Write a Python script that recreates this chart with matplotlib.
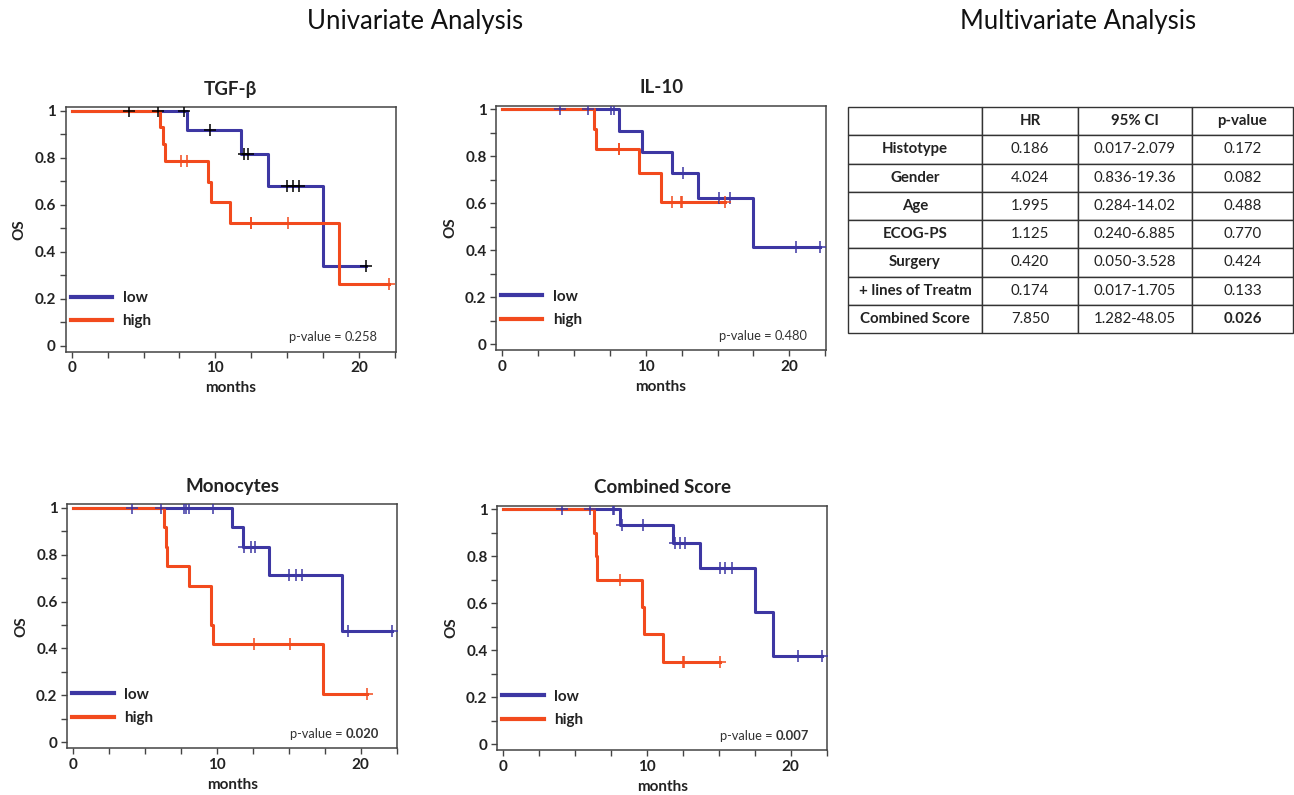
import matplotlib
matplotlib.use("Agg")
import matplotlib.pyplot as plt
import numpy as np

plt.rcParams['font.family'] = ['Lato', 'DejaVu Sans']

# ---- Kaplan-Meier data ----
panel_titles = ['TGF-β', 'IL-10', 'Monocytes', 'Combined Score']
p_values = ['0.258', '0.480', '0.020', '0.007']
p_bold = [False, False, True, True]

# low group: step times / survival / censor times
low_times = [
    [0, 8.0, 11.8, 13.65, 17.5, 20.5],
    [0, 8.1, 9.75, 11.8, 13.65, 17.45, 22.15],
    [0, 11.05, 11.8, 13.65, 18.7, 22.2],
    [0, 8.15, 11.8, 13.7, 17.5, 18.75, 22.15],
]
low_surv = [
    [1, 0.917, 0.815, 0.679, 0.34, 0.34],
    [1, 0.909, 0.818, 0.727, 0.623, 0.415, 0.415],
    [1, 0.917, 0.833, 0.714, 0.476, 0.476],
    [1, 0.933, 0.857, 0.75, 0.563, 0.375, 0.375],
]
low_censor = [
    [4.0, 6.0, 7.8, 9.65, 12.0, 12.25, 15.0, 15.4, 15.8, 20.5],
    [4.0, 6.0, 7.6, 7.75, 12.6, 15.1, 15.85, 20.5, 22.15],
    [4.05, 6.1, 7.7, 7.85, 8.05, 9.75, 11.9, 12.35, 12.65, 15.0, 15.5, 15.95, 19.1, 22.2],
    [4.05, 6.05, 7.6, 7.7, 8.25, 9.7, 11.95, 12.3, 12.65, 15.05, 15.45, 15.9, 20.5, 22.15],
]

high_times = [
    [0, 6.15, 6.35, 6.5, 9.5, 9.7, 11.05, 18.6, 22.1],
    [0, 6.4, 6.55, 9.55, 11.05, 15.5],
    [0, 6.3, 6.45, 6.55, 8.05, 9.6, 9.7, 17.4, 20.45],
    [0, 6.3, 6.45, 6.55, 9.65, 9.8, 11.1, 15.05],
]
high_surv = [
    [1, 0.929, 0.857, 0.786, 0.698, 0.611, 0.524, 0.262, 0.262],
    [1, 0.917, 0.833, 0.729, 0.607, 0.607],
    [1, 0.917, 0.833, 0.75, 0.667, 0.5, 0.417, 0.208, 0.208],
    [1, 0.9, 0.8, 0.7, 0.583, 0.467, 0.35, 0.35],
]
high_censor = [
    [7.6, 8.0, 12.45, 12.5, 15.05, 22.1],
    [8.1, 8.15, 11.85, 12.45, 12.5, 15.5],
    [12.55, 15.05, 20.45],
    [8.1, 12.5, 12.55, 15.05],
]

y_ticks = [0, 0.2, 0.4, 0.6, 0.8, 1]
y_ticklabels = ['0', '0.2', '0.4', '0.6', '0.8', '1']
x_ticks = [0, 10, 20]

# ---- multivariate table ----
col_labels = ['', 'HR', '95% CI', 'p-value']
row_labels = ['Histotype', 'Gender', 'Age', 'ECOG-PS', 'Surgery', '+ lines of Treatm', 'Combined Score']
hr = ['0.186', '4.024', '1.995', '1.125', '0.420', '0.174', '7.850']
ci = ['0.017-2.079', '0.836-19.36', '0.284-14.02', '0.240-6.885', '0.050-3.528', '0.017-1.705', '1.282-48.05']
pv = ['0.172', '0.082', '0.488', '0.770', '0.424', '0.133', '0.026']

BLUE = '#3d37a3'
RED = '#f24a1d'
FRAME = '#444444'
TXT = '#222222'

W, H = 1294, 795


def ax_rect(left, top, right, bottom):
    return [left / W, 1 - bottom / H, (right - left) / W, (bottom - top) / H]


def value_at(times, surv, t):
    idx = np.searchsorted(times, t, side='right') - 1
    return np.asarray(surv)[idx]


def km_panel(ax, i):
    lo, = ax.step(low_times[i], low_surv[i], where='post', color=BLUE, lw=2.2, label='low', zorder=2)
    hi, = ax.step(high_times[i], high_surv[i], where='post', color=RED, lw=2.2, label='high', zorder=3)

    # censor marks
    lc = BLUE if i > 0 else 'black'
    ax.plot(low_censor[i], value_at(low_times[i], low_surv[i], low_censor[i]), '+',
            color=lc, ms=8, mew=1.1, zorder=4)
    ax.plot(high_censor[i], value_at(high_times[i], high_surv[i], high_censor[i]), '+',
            color=RED, ms=8, mew=1.1, zorder=4)

    ax.set_xlim(-0.42, 22.55)
    ax.set_ylim(-0.0255, 1.0145)
    ax.set_xticks(x_ticks)
    ax.set_xticks(np.arange(0, 22.6, 2.5), minor=True)
    ax.set_yticks(y_ticks)
    ax.set_yticklabels(y_ticklabels)
    ax.set_yticks(np.arange(0, 1.01, 0.1), minor=True)
    ax.tick_params(which='both', length=4, width=1, color=FRAME, labelsize=11,
                   labelcolor=TXT, pad=3)
    for lab in ax.get_xticklabels() + ax.get_yticklabels():
        lab.set_fontweight('bold')
    for sp in ax.spines.values():
        sp.set_color(FRAME)
        sp.set_linewidth(1.1)

    ax.set_title(panel_titles[i], fontsize=13.5, fontweight='bold', color=TXT, pad=9)
    ax.set_xlabel('months', fontsize=11, fontweight='bold', color=TXT, labelpad=4)
    ax.set_ylabel('OS', fontsize=11, fontweight='bold', color=TXT)
    ax.yaxis.set_label_coords(-0.118, 0.5)

    leg = ax.legend(handles=[lo, hi], loc='lower left', frameon=False,
                    bbox_to_anchor=(0.015, 0.095), borderaxespad=0, borderpad=0,
                    handlelength=2.7, handletextpad=0.7, labelspacing=0.62,
                    prop={'weight': 'bold', 'size': 11})
    for ln in leg.get_lines():
        ln.set_linewidth(3)
    for t in leg.get_texts():
        t.set_color(TXT)

    val = ax.text(0.945, 0.06, p_values[i], transform=ax.transAxes, ha='right', va='center',
                  fontsize=9.3, color='#333333', fontweight='bold' if p_bold[i] else 'normal')
    ax.annotate('p-value = ', xy=(0, 0.5), xycoords=val, ha='right', va='center',
                fontsize=9.3, color='#333333')


def draw_table(tax):
    tax.axis('off')
    cells = [[row_labels[k], hr[k], ci[k], pv[k]] for k in range(len(row_labels))]
    widths = np.array([134, 96, 114, 101], dtype=float)
    tbl = tax.table(cellText=cells, colLabels=col_labels, cellLoc='center',
                    colWidths=list(widths / widths.sum()), bbox=[0, 0, 1, 1])
    tbl.auto_set_font_size(False)
    for (r, c), cell in tbl.get_celld().items():
        cell.set_edgecolor('#333333')
        cell.set_linewidth(1)
        txt = cell.get_text()
        txt.set_fontsize(10.8)
        txt.set_color(TXT)
        if r == 0 or c == 0:
            txt.set_fontweight('bold')
        if r == len(row_labels) and c == 3:
            txt.set_fontweight('bold')


def main():
    fig = plt.figure(figsize=(W / 100, H / 100), dpi=100)
    rects = [
        ax_rect(65.7, 107.3, 395.7, 351.7),
        ax_rect(496.3, 105.9, 825.9, 350.3),
        ax_rect(67.3, 504.3, 397.3, 748.3),
        ax_rect(497.3, 505.6, 827.3, 750.3),
    ]
    for i, r in enumerate(rects):
        ax = fig.add_axes(r)
        km_panel(ax, i)

    tax = fig.add_axes(ax_rect(848, 107, 1293, 333))
    draw_table(tax)

    fig.text(415 / W, 1 - 22 / H, 'Univariate Analysis', ha='center', va='center',
             fontsize=18.5, color='#111111')
    fig.text(1078 / W, 1 - 22 / H, 'Multivariate Analysis', ha='center', va='center',
             fontsize=18.5, color='#111111')

    fig.savefig('out.png', dpi=100)


if __name__ == '__main__':
    main()
